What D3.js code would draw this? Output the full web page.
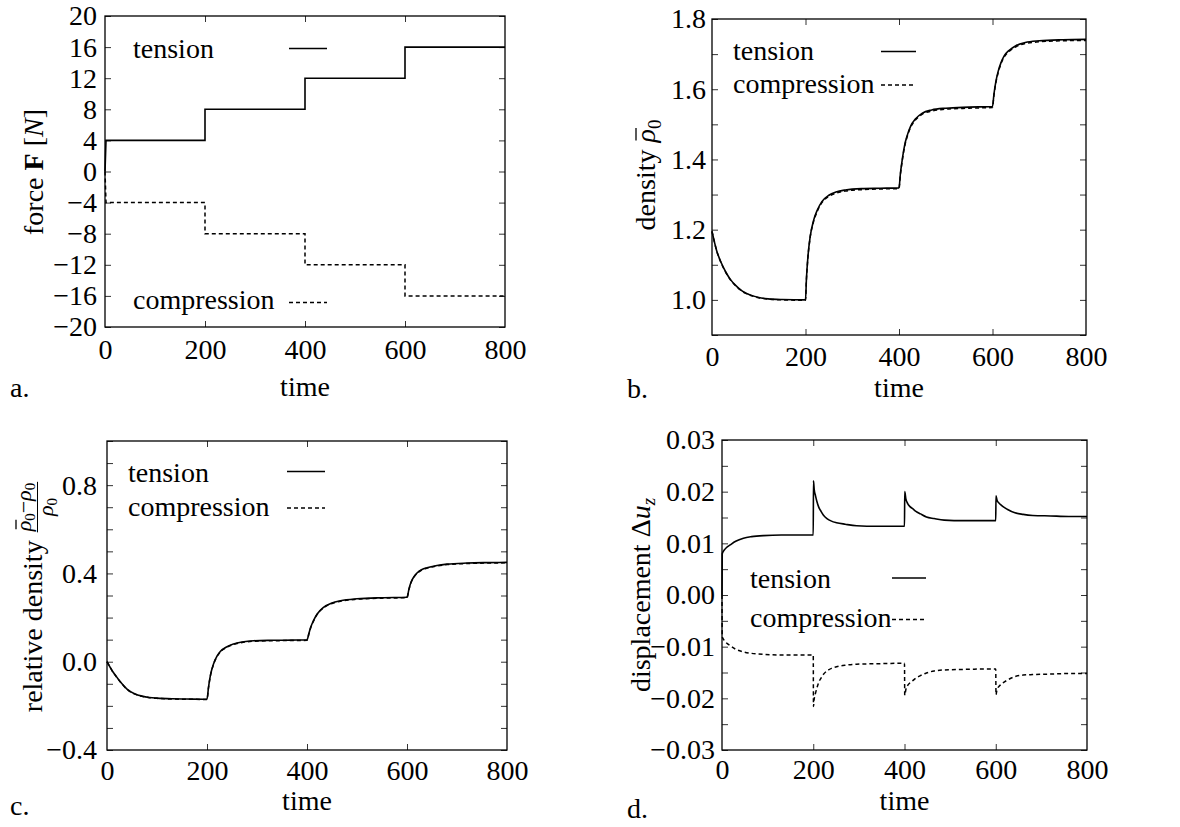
<!DOCTYPE html>
<html><head><meta charset="utf-8">
<script src="https://cdn.jsdelivr.net/npm/d3@7"></script>
<style>
body{margin:0;background:#fff}
svg{display:block}
text{font-family:"Liberation Serif","DejaVu Serif",serif;fill:#000}
</style>
</head><body>
<svg id="chart" width="1180" height="827"></svg>
<script>
// ---------------- data ----------------
const timeTicks = [0, 200, 400, 600, 800];
const timeInnerTicks = [200, 400, 600];

// a. force
const forceTime        = [0, 2, 200, 200, 400, 400, 600, 600, 800];
const forceTension     = [0, 4, 4, 8, 8, 12, 12, 16, 16];
const forceCompression = [0, -4, -4, -8, -8, -12, -12, -16, -16];
const forceTicks  = [-20, -16, -12, -8, -4, 0, 4, 8, 12, 16, 20];
const forceLabels = [-20, -16, -12, -8, -4, 0, 4, 8, 12, 16, 20];

// b. density
const densTime = [0,10,20,30,40,50,60,70,80,100,120,150,200,
  202,205,210,217,225,235,250,265,285,320,360,400,
  403,407,412,418,425,435,450,470,500,550,600,
  603,607,612,618,625,635,650,670,700,750,800];
const densTension = [1.195,1.14,1.105,1.078,1.057,1.042,1.03,1.021,1.015,1.007,1.003,1.001,1.0,
  1.06,1.12,1.18,1.225,1.255,1.28,1.298,1.307,1.313,1.317,1.318,1.319,
  1.36,1.40,1.44,1.47,1.495,1.515,1.532,1.541,1.546,1.549,1.551,
  1.585,1.62,1.65,1.675,1.695,1.71,1.724,1.733,1.738,1.741,1.742];
const densCompression = [1.195,1.14,1.104,1.077,1.056,1.041,1.029,1.02,1.014,1.006,1.002,1.0,0.999,
  1.058,1.118,1.178,1.222,1.252,1.277,1.295,1.304,1.31,1.314,1.316,1.317,
  1.357,1.397,1.437,1.467,1.492,1.512,1.529,1.538,1.543,1.546,1.548,
  1.582,1.617,1.647,1.672,1.692,1.707,1.721,1.73,1.735,1.738,1.739];
const densTicks  = [0.9, 1.0, 1.1, 1.2, 1.3, 1.4, 1.5, 1.6, 1.7, 1.8];
const densLabels = [1.0, 1.2, 1.4, 1.6, 1.8];

// c. relative density
const relTime = [0,10,20,30,40,55,70,85,100,130,160,200,
  203,207,213,220,227,240,253,270,293,330,370,400,
  404,408,413,420,433,450,467,500,550,600,
  604,608,613,620,630,640,660,680,720,760,800];
const relTension = [0,-0.04,-0.071,-0.1,-0.124,-0.145,-0.156,-0.162,-0.165,-0.168,-0.169,-0.17,
  -0.116,-0.06,-0.01,0.025,0.047,0.068,0.08,0.089,0.095,0.097,0.098,0.099,
  0.13,0.16,0.186,0.215,0.246,0.266,0.276,0.285,0.29,0.292,
  0.33,0.36,0.382,0.402,0.418,0.426,0.436,0.442,0.447,0.449,0.45];
const relCompression = [0,-0.04,-0.072,-0.101,-0.125,-0.146,-0.157,-0.163,-0.166,-0.169,-0.17,-0.171,
  -0.118,-0.062,-0.012,0.023,0.045,0.066,0.078,0.087,0.093,0.095,0.096,0.097,
  0.128,0.158,0.184,0.213,0.244,0.264,0.274,0.283,0.288,0.29,
  0.328,0.358,0.38,0.4,0.416,0.424,0.434,0.44,0.445,0.447,0.448];
const relTicks  = [-0.4,-0.3,-0.2,-0.1,0.0,0.1,0.2,0.3,0.4,0.5,0.6,0.7,0.8,0.9,1.0];
const relLabels = [-0.4, 0.0, 0.4, 0.8];

// d. displacement
const dispTime = [0,0.5,5,10,18,30,47,65,91,130,200,
  200.5,202,205,208,212,217,222,230,240,251,270,295,340,400,
  400.5,403,407,412,418,425,435,448,465,487,530,600,
  600.5,603,607,612,616,625,642,660,681,720,760,800];
const dispTension = [0,0.008,0.0087,0.0092,0.0097,0.0104,0.011,0.0113,0.0115,0.0116,0.0116,
  0.0221,0.0205,0.0192,0.0181,0.017,0.0162,0.0155,0.0148,0.0143,0.014,0.0137,0.0134,0.0133,0.0133,
  0.02,0.0186,0.0177,0.0171,0.0167,0.0162,0.0157,0.0151,0.0148,0.0145,0.0144,0.0144,
  0.0192,0.0183,0.0178,0.0174,0.0171,0.0166,0.0159,0.0156,0.0154,0.0153,0.0152,0.0152];
const dispCompression = [0,-0.0081,-0.0088,-0.0093,-0.0098,-0.0105,-0.011,-0.0113,-0.0115,-0.0116,-0.0116,
  -0.0216,-0.0202,-0.019,-0.018,-0.0169,-0.0161,-0.0154,-0.0147,-0.0142,-0.0139,-0.0136,-0.0134,-0.0133,-0.0132,
  -0.0194,-0.0183,-0.0175,-0.017,-0.0166,-0.0161,-0.0156,-0.0151,-0.0147,-0.0145,-0.0144,-0.0143,
  -0.0193,-0.0182,-0.0177,-0.0173,-0.017,-0.0165,-0.0158,-0.0155,-0.0154,-0.0153,-0.0152,-0.0152];
const dispTicks  = [-0.03,-0.025,-0.02,-0.015,-0.01,-0.005,0,0.005,0.01,0.015,0.02,0.025,0.03];
const dispLabels = [-0.03,-0.02,-0.01,0,0.01,0.02,0.03];

const seriesNames = ["tension", "compression"];

// ---------------- drawing ----------------
const svg = d3.select("#chart");
const FS = 28;
const FONT = '"Liberation Serif","DejaVu Serif",serif';
const DASH = "4,3";

function rich(parent, parts, size) {
  const g = parent.append("g");
  let cx = 0;
  parts.forEach(p => {
    if (p.gap) { cx += p.gap; return; }
    const t = g.append("text").attr("x", cx).attr("y", p.dy || 0)
      .attr("font-size", p.size || size)
      .attr("font-style", p.italic ? "italic" : "normal")
      .attr("font-weight", p.bold ? "bold" : "normal")
      .text(p.t);
    const w = t.node().getComputedTextLength();
    if (p.overline !== undefined) {
      g.append("line").attr("x1", cx + 2).attr("x2", cx + w + 1)
        .attr("y1", p.overline).attr("y2", p.overline)
        .attr("stroke", "#000").attr("stroke-width", 1.3);
    }
    cx += w;
  });
  return {g, w: cx};
}

function panel(cfg) {
  const {L, R, T, B} = cfg.frame;
  const x = d3.scaleLinear().domain([0, 800]).range([L, R]);
  const y = d3.scaleLinear().domain(cfg.yDomain).range([B, T]);
  const g = svg.append("g").attr("font-family", FONT);
  const isLabel = v => cfg.yLabels.some(l => Math.abs(l - v) < 1e-9);

  const ax = [];
  ax.push(g.append("g").attr("transform", `translate(${L},0)`)
    .call(d3.axisLeft(y).tickValues(cfg.yTicks).tickSizeInner(-6).tickSizeOuter(0)
      .tickPadding(cfg.yPad).tickFormat(v => isLabel(v) ? cfg.fmt(v) : "")));
  ax.push(g.append("g").attr("transform", `translate(${R},0)`)
    .call(d3.axisRight(y).tickValues(cfg.yTicks).tickSizeInner(-6).tickSizeOuter(0).tickFormat("")));
  ax.push(g.append("g").attr("transform", `translate(0,${T})`)
    .call(d3.axisTop(x).tickValues(timeInnerTicks).tickSizeInner(-6).tickSizeOuter(0).tickFormat("")));
  ax.push(g.append("g").attr("transform", `translate(0,${B})`)
    .call(d3.axisBottom(x).tickValues(timeTicks).tickSizeInner(-6).tickSizeOuter(0)
      .tickPadding(cfg.xPad).tickFormat(d3.format("d"))));
  ax.forEach(a => {
    a.attr("font-family", FONT).attr("font-size", FS);
    a.select(".domain").remove();
    a.selectAll(".tick line").attr("stroke", "#333").attr("stroke-width", 1);
  });
  ax[3].selectAll(".tick line").filter(d => d === 0 || d === 800).remove();

  // curves
  const line = d3.line().x(d => x(d[0])).y(d => y(d[1])).curve(cfg.curve);
  const comp = cfg.time.map((t, i) => [t, cfg.compression[i]]);
  const ten = cfg.time.map((t, i) => [t, cfg.tension[i]]);
  g.append("path").attr("d", line(comp)).attr("fill", "none").attr("stroke", "#000")
    .attr("stroke-width", 1.5).attr("stroke-dasharray", DASH);
  g.append("path").attr("d", line(ten)).attr("fill", "none").attr("stroke", "#000")
    .attr("stroke-width", 1.6);

  // frame
  g.append("rect").attr("x", L).attr("y", T).attr("width", R - L).attr("height", B - T)
    .attr("fill", "none").attr("stroke", "#000").attr("stroke-width", 1.3);

  // legend
  cfg.legend.forEach((lg, i) => {
    g.append("text").attr("x", lg.tx).attr("y", lg.ty).attr("font-size", FS).text(seriesNames[i]);
    g.append("line").attr("x1", lg.x1).attr("x2", lg.x2).attr("y1", lg.ly).attr("y2", lg.ly)
      .attr("stroke", "#000").attr("stroke-width", 1.5)
      .attr("stroke-dasharray", i === 1 ? DASH : null);
  });

  // x title & panel letter
  g.append("text").attr("x", (L + R) / 2).attr("y", cfg.timeY).attr("text-anchor", "middle")
    .attr("font-size", FS).text("time");
  g.append("text").attr("x", cfg.letter[0]).attr("y", cfg.letter[1]).attr("font-size", FS).text(cfg.letter[2]);

  // y title (rotated)
  const yt = g.append("g").attr("transform", `translate(${cfg.yTitle.bx},${cfg.yTitle.cy}) rotate(-90)`);
  const r = cfg.yTitle.draw(yt);
  r.g.attr("transform", `translate(${-r.w / 2},0)`);
}

const f1 = d3.format(".1f"), f2 = d3.format(".2f"), fd = d3.format("d");

// a.
panel({
  frame: {L: 105, R: 505, T: 16, B: 327},
  yDomain: [-20, 20], yTicks: forceTicks, yLabels: forceLabels, fmt: fd, yPad: 8, xPad: 12,
  time: forceTime, tension: forceTension, compression: forceCompression, curve: d3.curveLinear,
  legend: [{tx: 133, ty: 58, x1: 289, x2: 327, ly: 48.5}, {tx: 133, ty: 309, x1: 289, x2: 327, ly: 302.5}],
  timeY: 396, letter: [10, 397, "a."],
  yTitle: {bx: 43, cy: 172, draw: p => rich(p, [
    {t: "force"}, {gap: 7}, {t: "F", bold: true}, {gap: 7}, {t: "["}, {t: "N", italic: true}, {t: "]"}], FS)}
});

// b.
panel({
  frame: {L: 712, R: 1086, T: 19, B: 335},
  yDomain: [0.9, 1.8], yTicks: densTicks, yLabels: densLabels, fmt: f1, yPad: 6, xPad: 11,
  time: densTime, tension: densTension, compression: densCompression, curve: d3.curveMonotoneX,
  legend: [{tx: 733, ty: 60, x1: 881, x2: 916, ly: 51.5}, {tx: 733, ty: 93, x1: 881, x2: 916, ly: 85}],
  timeY: 397, letter: [627, 398, "b."],
  yTitle: {bx: 655, cy: 175, draw: p => rich(p, [
    {t: "density"}, {gap: 7}, {t: "ρ", italic: true, overline: -19}, {t: "0", size: 19, dy: 6}], FS)}
});

// c.
panel({
  frame: {L: 107, R: 507, T: 441, B: 750},
  yDomain: [-0.4, 1.0], yTicks: relTicks, yLabels: relLabels, fmt: f1, yPad: 10, xPad: 10,
  time: relTime, tension: relTension, compression: relCompression, curve: d3.curveMonotoneX,
  legend: [{tx: 128, ty: 482, x1: 287, x2: 325, ly: 471.5}, {tx: 128, ty: 516, x1: 287, x2: 325, ly: 508}],
  timeY: 810, letter: [10, 815, "c."],
  yTitle: {bx: 42, cy: 597, draw: p => {
    const main = rich(p, [{t: "relative density"}], FS);
    const cx0 = main.w + 8;
    const num = rich(main.g, [{t: "ρ", italic: true, overline: -15, size: 22}, {t: "0", size: 15, dy: 4},
      {t: "−", size: 22}, {t: "ρ", italic: true, size: 22}, {t: "0", size: 15, dy: 4}], 22);
    const den = rich(main.g, [{t: "ρ", italic: true, size: 22}, {t: "0", size: 15, dy: 4}], 22);
    const fw = Math.max(num.w, den.w) + 2;
    num.g.attr("transform", `translate(${cx0 + (fw - num.w) / 2},-11)`);
    den.g.attr("transform", `translate(${cx0 + (fw - den.w) / 2},11)`);
    main.g.append("line").attr("x1", cx0).attr("x2", cx0 + fw).attr("y1", -4.5).attr("y2", -4.5)
      .attr("stroke", "#000").attr("stroke-width", 1);
    return {g: main.g, w: cx0 + fw};
  }}
});

// d.
panel({
  frame: {L: 722, R: 1087, T: 440, B: 750},
  yDomain: [-0.03, 0.03], yTicks: dispTicks, yLabels: dispLabels, fmt: f2, yPad: 7, xPad: 9,
  time: dispTime, tension: dispTension, compression: dispCompression, curve: d3.curveMonotoneX,
  legend: [{tx: 750, ty: 588, x1: 892, x2: 926, ly: 578}, {tx: 750, ty: 627, x1: 892, x2: 926, ly: 619.5}],
  timeY: 810, letter: [627, 818, "d."],
  yTitle: {bx: 650, cy: 595, draw: p => rich(p, [
    {t: "displacement"}, {gap: 7}, {t: "Δ"}, {t: "u", italic: true}, {t: "z", italic: true, size: 19, dy: 5}], FS)}
});
</script>
</body></html>
